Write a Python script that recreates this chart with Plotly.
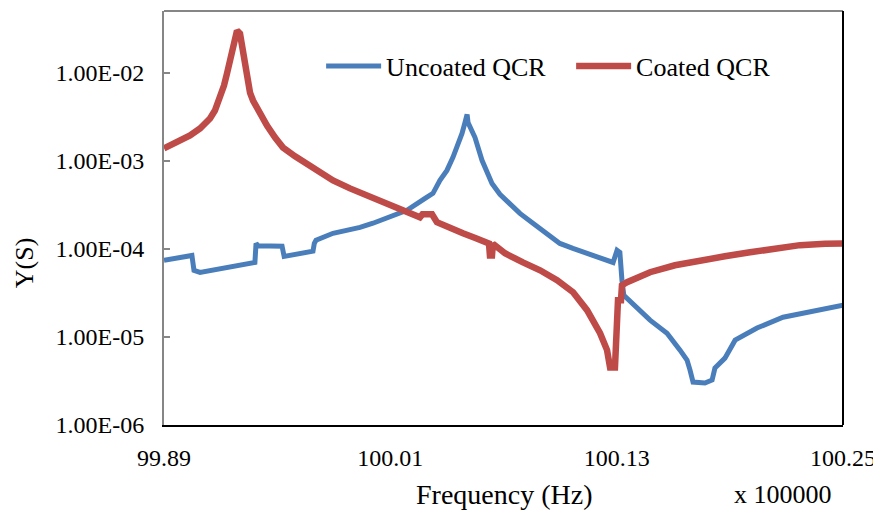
import plotly.graph_objects as go

# Frequency in units of 100000 Hz
freq_uncoated = [99.8900, 99.9011, 99.9048, 99.9059, 99.9091, 99.9382, 99.9388, 99.9400,
                 99.9526, 99.9537, 99.9690, 99.9697, 99.9706, 99.9796, 99.9939, 100.0008,
                 100.0098, 100.0188, 100.0284, 100.0326, 100.0363, 100.0400, 100.0432,
                 100.0459, 100.0480, 100.0496, 100.0507, 100.0512, 100.0549, 100.0586,
                 100.0613, 100.0639, 100.0681, 100.0734, 100.0787, 100.0856, 100.0920,
                 100.0999, 100.1068, 100.1143, 100.1212, 100.1281, 100.1302, 100.1317,
                 100.1328, 100.1338, 100.1477, 100.1567, 100.1636, 100.1673, 100.1689,
                 100.1705, 100.1768, 100.1806, 100.1821, 100.1874, 100.1928, 100.2044,
                 100.2182, 100.2362, 100.2500]
y_uncoated = [7.41e-5, 8.0e-5, 8.4e-5, 5.7e-5, 5.4e-5, 7.0e-5, 1.15e-4, 1.08e-4,
              1.07e-4, 8.2e-5, 9.4e-5, 1.15e-4, 1.25e-4, 1.50e-4, 1.75e-4, 1.95e-4,
              2.28e-4, 2.73e-4, 3.73e-4, 4.26e-4, 5.97e-4, 7.76e-4, 1.09e-3,
              1.49e-3, 2.04e-3, 2.71e-3, 3.35e-3, 2.71e-3, 1.83e-3, 1.01e-3,
              7.36e-4, 5.52e-4, 4.15e-4, 3.28e-4, 2.52e-4, 1.95e-4, 1.54e-4,
              1.15e-4, 1.01e-4, 8.9e-5, 7.8e-5, 7.0e-5, 9.6e-5, 9.1e-5,
              4.4e-5, 2.97e-5, 1.55e-5, 1.10e-5, 7.08e-6, 5.45e-6, 4.2e-6,
              3.07e-6, 3.0e-6, 3.24e-6, 4.43e-6, 5.74e-6, 9.18e-6, 1.26e-5,
              1.67e-5, 2.01e-5, 2.29e-5]

freq_coated = [99.8900, 99.8985, 99.9038, 99.9091, 99.9144, 99.9170, 99.9197, 99.9218,
               99.9234, 99.9250, 99.9261, 99.9276, 99.9287, 99.9303, 99.9319, 99.9329,
               99.9345, 99.9356, 99.9372, 99.9409, 99.9446, 99.9489, 99.9531, 99.9595,
               99.9658, 99.9727, 99.9796, 99.9886, 99.9976, 100.0072, 100.0151,
               100.0257, 100.0270, 100.0321, 100.0347, 100.0416, 100.0485, 100.0554,
               100.0623, 100.0628, 100.0639, 100.0644, 100.0708, 100.0803, 100.0894,
               100.0984, 100.1069, 100.1143, 100.1175, 100.1212, 100.1249, 100.1265,
               100.1291, 100.1297, 100.1307, 100.1323, 100.1328, 100.1355, 100.1424,
               100.1477, 100.1609, 100.1742, 100.1874, 100.2007, 100.2140, 100.2272,
               100.2405, 100.2500]
y_coated = [1.38e-3, 1.69e-3, 1.93e-3, 2.32e-3, 3.01e-3, 3.71e-3, 5.21e-3, 7.13e-3,
            9.75e-3, 1.37e-2, 1.77e-2, 2.56e-2, 2.99e-2, 2.77e-2, 1.64e-2, 1.17e-2,
            7.5e-3, 5.93e-3, 4.82e-3, 3.43e-3, 2.51e-3, 1.83e-3, 1.41e-3, 1.12e-3,
            9.3e-4, 7.36e-4, 5.97e-4, 4.85e-4, 4.04e-4, 3.37e-4, 2.88e-4,
            2.28e-4, 2.46e-4, 2.46e-4, 2.0e-4, 1.71e-4, 1.50e-4, 1.32e-4,
            1.15e-4, 8.4e-5, 8.4e-5, 1.14e-4, 8.9e-5, 7.0e-5, 5.70e-5,
            4.4e-5, 3.21e-5, 2.01e-5, 1.55e-5, 1.10e-5, 7.08e-6, 4.5e-6,
            4.5e-6, 9.2e-6, 2.6e-5, 2.6e-5, 3.85e-5, 4.17e-5, 4.88e-5,
            5.42e-5, 6.50e-5, 7.41e-5, 8.22e-5, 9.12e-5, 1.01e-4, 1.10e-4,
            1.14e-4, 1.15e-4]

x_tickvals = [99.89, 100.01, 100.13, 100.25]
x_ticktext = ["99.89", "100.01", "100.13", "100.25"]
y_tickvals = [1e-6, 1e-5, 1e-4, 1e-3, 1e-2]
y_ticktext = ["1.00E-06", "1.00E-05", "1.00E-04", "1.00E-03", "1.00E-02"]

FONT = "Liberation Serif"
BLUE = "#4A7EBB"
RED = "#BE4B48"

fig = go.Figure()
fig.add_trace(go.Scatter(x=freq_uncoated, y=y_uncoated, mode="lines",
                         name="Uncoated QCR", line=dict(color=BLUE, width=5)))
fig.add_trace(go.Scatter(x=freq_coated, y=y_coated, mode="lines",
                         name="Coated QCR", line=dict(color=RED, width=6.5)))

# page body has an 8px margin, so the figure is sized to fit the 881x516 window
fig.update_layout(
    width=873, height=508,
    margin=dict(l=156, r=38, t=3, b=91, autoexpand=False),
    paper_bgcolor="white", plot_bgcolor="white",
    font=dict(family=FONT, color="black", size=24),
    showlegend=True,
    legend=dict(orientation="h", x=0.2314, xanchor="left", y=0.867, yanchor="middle",
                font=dict(family=FONT, size=26, color="black"),
                bgcolor="rgba(0,0,0,0)", itemwidth=55, entrywidth=180),
    xaxis=dict(range=[99.89, 100.25], tickvals=x_tickvals, ticktext=x_ticktext,
               showgrid=False, zeroline=False, showline=True, linecolor="black",
               linewidth=2, ticks="", ticklabelstandoff=10, automargin=False,
               tickfont=dict(family=FONT, size=24, color="black")),
    yaxis=dict(type="log", range=[-6, -1.301], tickvals=y_tickvals, ticktext=y_ticktext,
               showgrid=False, zeroline=False, showline=True, linecolor="#868686",
               linewidth=2, ticks="inside", ticklen=6, tickcolor="#868686", tickwidth=1.5,
               ticklabelstandoff=13, automargin=False,
               tickfont=dict(family=FONT, size=24, color="black")),
    shapes=[
        dict(type="line", xref="paper", yref="paper", x0=0, x1=1, y0=1, y1=1,
             line=dict(color="#868686", width=2)),
        dict(type="line", xref="paper", yref="paper", x0=1, x1=1, y0=0, y1=1,
             line=dict(color="black", width=2)),
    ],
    annotations=[
        dict(text="Y(S)", xref="paper", yref="paper", x=-0.206, y=0.391,
             textangle=-90, showarrow=False, xanchor="center", yanchor="middle",
             font=dict(family=FONT, size=26, color="black")),
        dict(text="Frequency (Hz)", xref="paper", yref="paper", x=0.5, y=-0.169,
             showarrow=False, xanchor="center", yanchor="middle",
             font=dict(family=FONT, size=28, color="black")),
        dict(text="x 100000", xref="paper", yref="paper", x=0.912, y=-0.169,
             showarrow=False, xanchor="center", yanchor="middle",
             font=dict(family=FONT, size=26, color="black")),
    ],
)

fig.write_html("out.html")
